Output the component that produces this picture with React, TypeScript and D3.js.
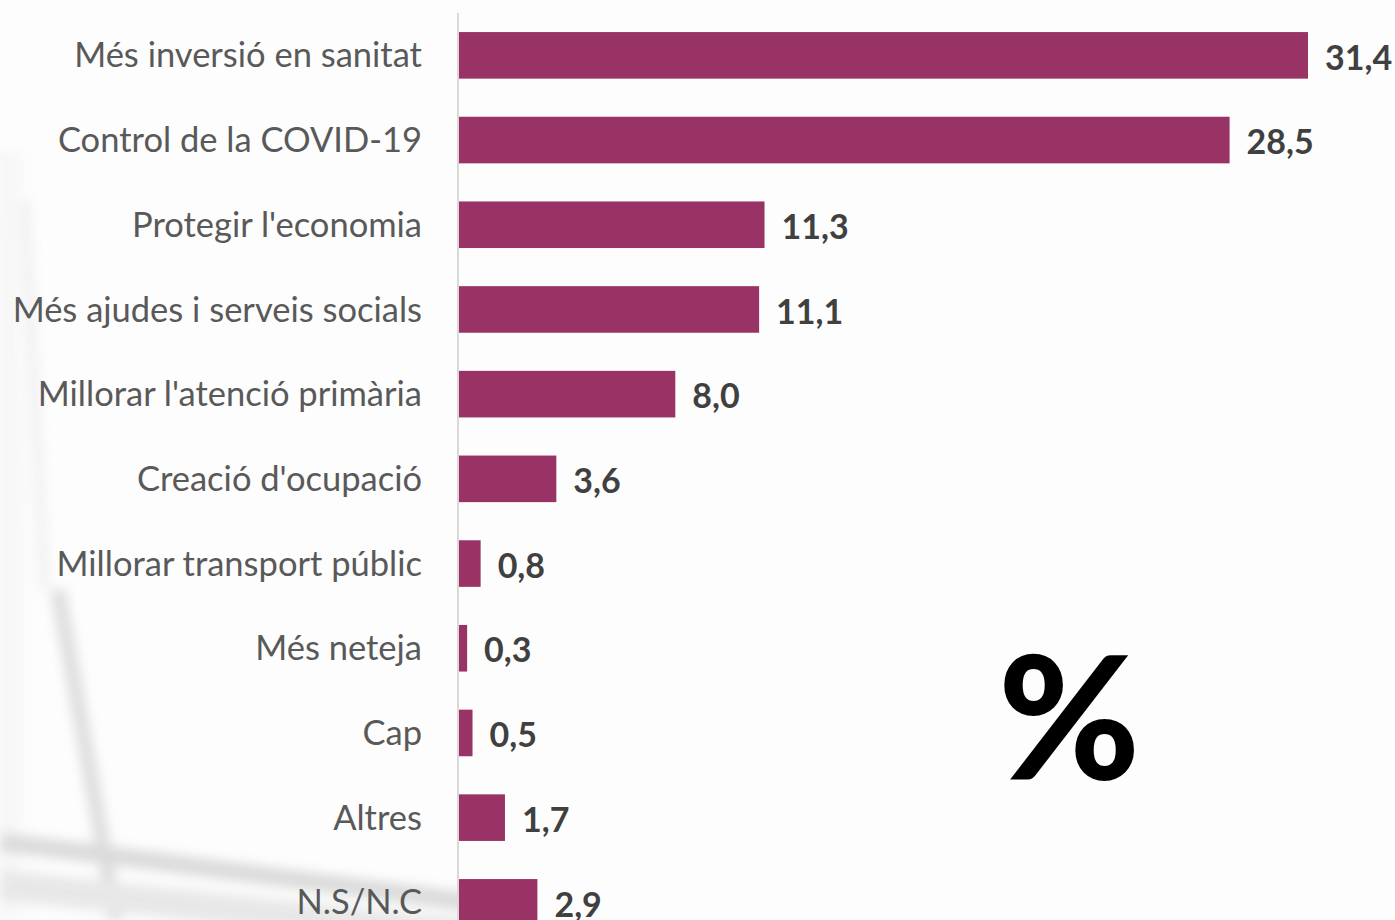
import React from "react";
import * as d3 from "d3";

const categories = [
  "Més inversió en sanitat",
  "Control de la COVID-19",
  "Protegir l'economia",
  "Més ajudes i serveis socials",
  "Millorar l'atenció primària",
  "Creació d'ocupació",
  "Millorar transport públic",
  "Més neteja",
  "Cap",
  "Altres",
  "N.S/N.C",
];
const values = [31.4, 28.5, 11.3, 11.1, 8.0, 3.6, 0.8, 0.3, 0.5, 1.7, 2.9];
const unitLabel = "%";

const W = 1395;
const H = 920;
const FONT = "Lato, 'Open Sans', sans-serif";

const locale = d3.formatLocale({ decimal: ",", thousands: ".", grouping: [3], currency: ["", "€"] });
const fmt = locale.format(".1f");

export default function App() {
  const x = d3.scaleLinear().domain([0, 31.4]).range([459, 1308]);
  const y = d3
    .scaleBand<string>()
    .domain(categories)
    .range([13, 13 + 84.7 * 11])
    .paddingInner(0.45)
    .paddingOuter(0.225);
  const bh = y.bandwidth();

  return (
    <svg
      width={W}
      height={H}
      style={{ position: "fixed", left: 0, top: 0, background: "#fdfdfd" }}
    >
      <defs>
        <filter id="blur" x="-20%" y="-20%" width="140%" height="140%">
          <feGaussianBlur stdDeviation="6" />
        </filter>
        <linearGradient id="leftShade" x1="0" x2="1" y1="0" y2="0">
          <stop offset="0" stopColor="#e6e6e6" stopOpacity="0.5" />
          <stop offset="1" stopColor="#ffffff" stopOpacity="0" />
        </linearGradient>
      </defs>
      <rect x={0} y={0} width={W} height={H} fill="#fdfdfd" />
      <g filter="url(#blur)" opacity={0.85}>
        <rect x={0} y={150} width={50} height={770} fill="url(#leftShade)" />
        <path d="M58,590 L116,920" stroke="#d8d8d8" strokeWidth={15} fill="none" />
        <path d="M0,842 L130,858 L470,902" stroke="#d4d4d4" strokeWidth={18} fill="none" />
        <path d="M0,885 L470,935" stroke="#e4e4e4" strokeWidth={30} fill="none" />
        <path d="M25,200 L45,590" stroke="#efefef" strokeWidth={10} fill="none" />
      </g>

      <line x1={458} x2={458} y1={13} y2={H} stroke="#d9d9d9" strokeWidth={2} />

      {categories.map((c, i) => {
        const yy = y(c)!;
        const v = values[i];
        return (
          <g key={c}>
            <rect x={x(0)} y={yy} width={x(v) - x(0)} height={bh} fill="#993366" />
            <text
              x={422}
              y={yy + bh / 2}
              dy="0.35em"
              textAnchor="end"
              fontFamily={FONT}
              fontSize={34.5}
              fill="#595959"
            >
              {c}
            </text>
            <text
              x={x(v) + 17}
              y={yy + bh / 2 + 2}
              dy="0.36em"
              textAnchor="start"
              fontFamily={FONT}
              fontWeight="bold"
              fontSize={34}
              fill="#404040"
            >
              {fmt(v)}
            </text>
          </g>
        );
      })}

      <text
        x={1069}
        y={719}
        dy="0.35em"
        textAnchor="middle"
        fontFamily={FONT}
        fontWeight={900}
        fontSize={172}
        fill="#000000"
      >
        {unitLabel}
      </text>
    </svg>
  );
}
